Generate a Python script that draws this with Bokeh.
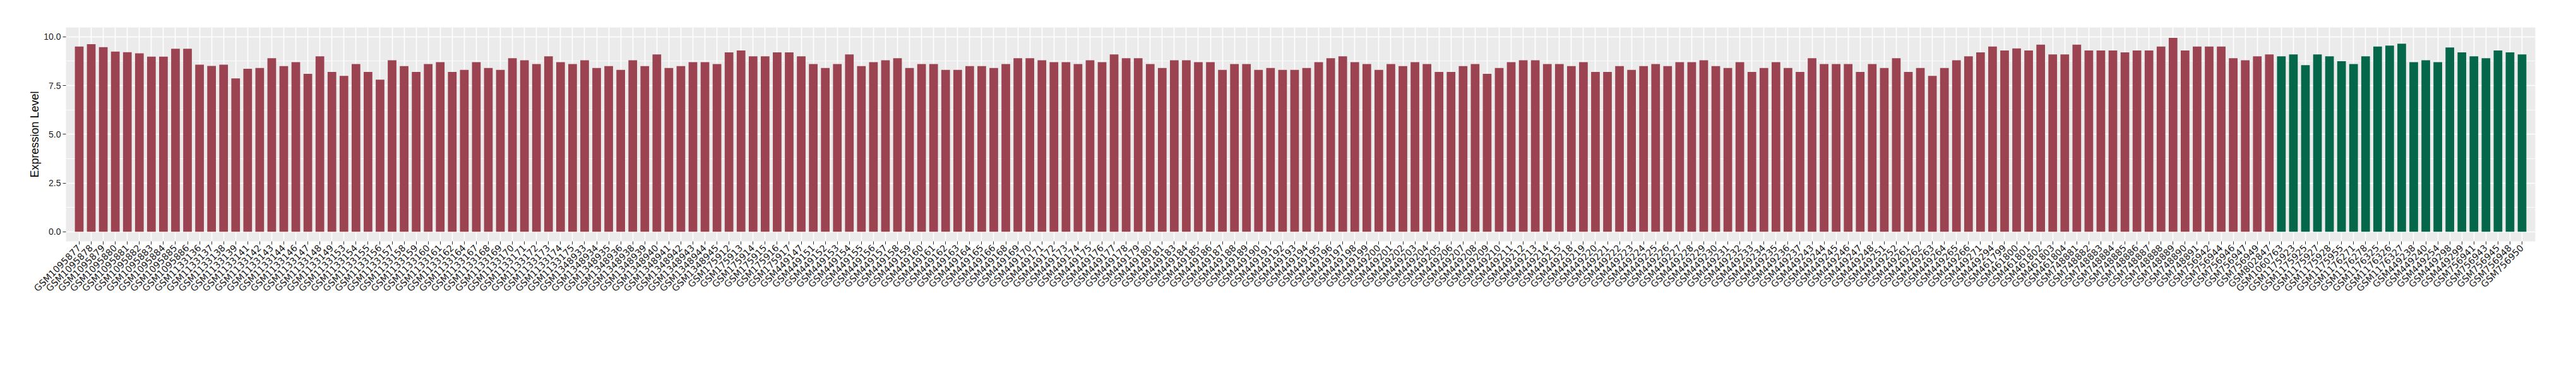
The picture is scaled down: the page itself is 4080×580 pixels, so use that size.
import math
from bokeh.plotting import figure
from bokeh.models import (FactorRange, Range1d, SingleIntervalTicker,
                          PrintfTickFormatter, ColumnDataSource)
from bokeh.transform import factor_cmap
from bokeh.embed import file_html
from bokeh.resources import INLINE

# ---------------- data ----------------
red_samples = (
    ["GSM10958%02d" % n for n in [77, 78, 79, 80, 81, 82, 83, 84, 85, 86]]
    + ["GSM1133" + s for s in ["136", "137", "138", "139", "141", "142", "143", "144",
                                "146", "147", "148", "149", "153", "154", "155", "156",
                                "157", "158", "159", "160", "161", "162", "164", "167",
                                "168", "169", "170", "171", "172", "173", "174", "175"]]
    + ["GSM1348" + s for s in ["933", "934", "935", "936", "938", "939", "940", "941",
                                "942", "943", "944", "945"]]
    + ["GSM1759" + s for s in ["12", "13", "14", "15", "16", "17"]]
    + ["GSM449" + s for s in ["147", "151", "152", "153", "154", "155", "156", "157",
                               "158", "159", "160", "161", "162", "163", "164", "165",
                               "166", "168", "169", "170", "171", "172", "173", "174",
                               "175", "176", "177", "178", "179", "180", "181", "183",
                               "184", "185", "186", "187", "188", "189", "190", "191",
                               "192", "193", "194", "195", "196", "197", "198", "199",
                               "200", "201", "202", "203", "204", "205", "206", "207",
                               "208", "209", "210", "211", "212", "213", "214", "215",
                               "218", "219", "220", "221", "222", "223", "224", "225",
                               "226", "227", "228", "229", "230", "231", "232", "233",
                               "234", "235", "236", "237", "243", "244", "245", "246",
                               "247", "248", "251", "252", "261", "262", "263", "264",
                               "265", "266", "271", "294"]]
    + ["GSM461799", "GSM461800", "GSM461801", "GSM461802", "GSM461803", "GSM461804"]
    + ["GSM748" + s for s in ["881", "882", "883", "884", "885", "886", "887", "888",
                               "889", "890", "891"]]
    + ["GSM756942", "GSM756944", "GSM756946", "GSM756947", "GSM756949"]
    + ["GSM802847"]
)

red_values = [
    9.50, 9.62, 9.47, 9.24, 9.21, 9.15, 8.98, 8.98, 9.39, 9.39,
    8.57, 8.51, 8.57, 7.87, 8.36, 8.40, 8.90, 8.50, 8.70, 8.10,
    9.00, 8.20, 8.00, 8.60, 8.20, 7.80, 8.80, 8.50, 8.20, 8.60,
    8.70, 8.20, 8.30, 8.70, 8.40, 8.30, 8.90, 8.80, 8.60, 9.00,
    8.70, 8.60, 8.80, 8.40, 8.50, 8.30, 8.80, 8.50, 9.10, 8.40,
    8.50, 8.70, 8.70, 8.60, 9.20, 9.30, 9.00, 9.00, 9.20, 9.20,
    9.00, 8.60, 8.40, 8.60, 9.10, 8.50, 8.70, 8.80, 8.90, 8.40,
    8.60, 8.60, 8.30, 8.30, 8.50, 8.50, 8.40, 8.60, 8.90, 8.90,
    8.80, 8.70, 8.70, 8.60, 8.80, 8.70, 9.10, 8.90, 8.90, 8.60,
    8.40, 8.80, 8.80, 8.70, 8.70, 8.30, 8.60, 8.60, 8.30, 8.40,
    8.30, 8.30, 8.40, 8.70, 8.90, 9.00, 8.70, 8.60, 8.30, 8.60,
    8.50, 8.70, 8.60, 8.20, 8.20, 8.50, 8.60, 8.10, 8.40, 8.70,
    8.80, 8.80, 8.60, 8.60, 8.50, 8.70, 8.20, 8.20, 8.50, 8.30,
    8.50, 8.60, 8.50, 8.70, 8.70, 8.80, 8.50, 8.40, 8.70, 8.20,
    8.40, 8.70, 8.40, 8.20, 8.90, 8.60, 8.60, 8.60, 8.20, 8.60,
    8.40, 8.90, 8.20, 8.40, 8.00, 8.40, 8.80, 9.00, 9.20, 9.50,
    9.30, 9.40, 9.30, 9.60, 9.10, 9.10, 9.60, 9.30, 9.30, 9.30,
    9.20, 9.30, 9.30, 9.50, 9.95, 9.30, 9.50, 9.50, 9.50, 8.90,
    8.80, 9.00, 9.10,
]

green_samples = (
    ["GSM1060763"]
    + ["GSM1175" + s for s in ["923", "925", "927", "928", "955"]]
    + ["GSM1176" + s for s in ["271", "278", "325", "326", "327"]]
    + ["GSM449" + s for s in ["238", "240", "254", "298", "299"]]
    + ["GSM756" + s for s in ["941", "943", "945", "948", "950"]]
)

green_values = [
    9.00, 9.10, 8.55, 9.10, 9.00, 8.75, 8.60, 9.00, 9.50, 9.55,
    9.65, 8.70, 8.80, 8.70, 9.45, 9.20, 9.00, 8.90, 9.30, 9.20,
    9.10,
]

groups = ["Group 1", "Group 2"]

# ---------------- build ----------------
samples = red_samples + green_samples
values = red_values + green_values
group_col = [groups[0]] * len(red_samples) + [groups[1]] * len(green_samples)

src = ColumnDataSource(dict(sample=samples, value=values, group=group_col))

p = figure(
    width=4064, height=564,
    x_range=FactorRange(factors=samples, range_padding=0.6,
                        range_padding_units="absolute"),
    y_range=Range1d(-0.49, 10.48),
    output_backend="svg", toolbar_location=None,
    min_border_left=104, min_border_right=49,
    min_border_top=43, min_border_bottom=182,
)

p.vbar(x="sample", top="value", bottom=0, width=0.72, source=src,
       fill_color=factor_cmap("group", ["#9B4350", "#04674A"], groups),
       line_color=None)

p.background_fill_color = "#EBEBEB"
p.border_fill_color = "white"
p.outline_line_color = None

# grid
p.xgrid.grid_line_color = "white"
p.xgrid.grid_line_width = 1.6
p.ygrid.grid_line_color = "white"
p.ygrid.grid_line_width = 1.6
p.ygrid.minor_grid_line_color = "white"
p.ygrid.minor_grid_line_width = 0.8

# y axis
p.yaxis.ticker = SingleIntervalTicker(interval=2.5, num_minor_ticks=2)
p.yaxis.formatter = PrintfTickFormatter(format="%.1f")
p.yaxis.axis_label = "Expression Level"
p.yaxis.axis_label_text_font = "Liberation Sans"
p.yaxis.axis_label_text_font_style = "normal"
p.yaxis.axis_label_text_font_size = "18px"
p.yaxis.axis_label_text_color = "black"
p.yaxis.axis_label_standoff = 1

for ax in (p.xaxis, p.yaxis):
    ax.axis_line_color = None
    ax.major_tick_in = 0
    ax.major_tick_out = 5
    ax.major_tick_line_color = "#333333"
    ax.minor_tick_line_color = None
    ax.major_label_text_font = "Liberation Sans"
    ax.major_label_text_font_size = "14px"
    ax.major_label_text_color = "#1A1A1A"
    ax.major_label_standoff = 3

p.xaxis.major_label_orientation = math.pi / 4
p.xaxis.major_label_text_font = "DejaVu Sans"
p.xaxis.major_label_text_font_size = "14.5px"

open("out.html", "w").write(file_html(p, INLINE))
